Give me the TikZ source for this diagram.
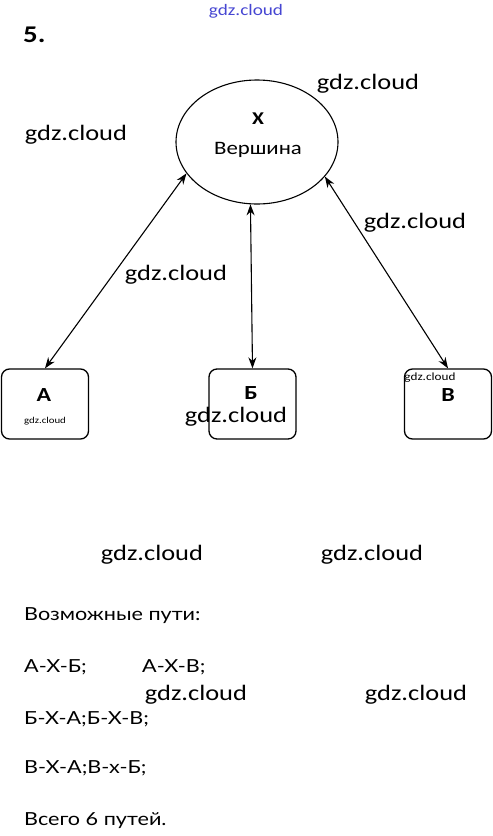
\documentclass[tikz,border=0pt]{standalone}
\usepackage{fontspec}
\setmainfont[FakeStretch=1.2]{Carlito}
\newfontfamily\putfont[FakeStretch=1.2]{Lato}
\usetikzlibrary{arrows.meta,shapes.geometric}
\definecolor{wmblue}{RGB}{70,70,210}

\begin{document}
\begin{tikzpicture}[x=1pt, y=-1pt,
    every node/.style={inner sep=0pt},
    wm/.style={font=\fontsize{22}{22}\selectfont},
    box/.style={draw, line width=1.3pt, rounded corners=8pt, minimum width=87pt, minimum height=70pt},
    lbl/.style={font=\fontsize{20}{20}\selectfont\bfseries},
    txt/.style={anchor=base west, font=\putfont\fontsize{18}{18}\selectfont},
    link/.style={line width=1.1pt, {Stealth[length=11pt,width=8pt]}-{Stealth[length=11pt,width=8pt]}}]
    \useasboundingbox (0,0) rectangle (493,836);

    \node[font=\fontsize{24}{24}\selectfont\bfseries, anchor=base west] (num) at (23,42) {5.};

    % Вершина X
    \node[draw, ellipse, line width=1.1pt, minimum width=162pt, minimum height=124pt] (X) at (257,142) {};
    \node[font=\fontsize{18}{18}\selectfont\bfseries] (xname) at (258,119) {X};
    \node[font=\fontsize{19}{19}\selectfont] (xtext) at (258,150) {Вершина};

    % Пункты
    \node[box] (A) at (45,404) {};
    \node[box] (B) at (252.5,404) {};
    \node[box] (V) at (448,404) {};
    \node[lbl] (lA) at (44,395) {А};
    \node[lbl] (lB) at (251,393) {Б};
    \node[lbl] (lV) at (448,395) {В};

    \draw[link] (X.204) -- (A.north);
    \draw[link] (X.264) -- (B.north);
    \draw[link] (X.333) -- (V.north);

    % Пути
    \node[txt] (t0) at (24,620) {Возможные пути:};
    \node[txt] (t1) at (24,672) {А-Х-Б;};
    \node[txt] (t2) at (142,672) {А-Х-В;};
    \node[txt] (t3) at (24,724) {Б-Х-А;Б-Х-В;};
    \node[txt] (t4) at (24,773) {В-Х-А;В-х-Б;};
    \node[txt] (t5) at (24,825) {Всего 6 путей.};

    % gdz.cloud
    \node[text=wmblue, font=\fontsize{16}{16}\selectfont] (w0) at (246,11) {gdz.cloud};
    \node[wm] (w1) at (368,84) {gdz.cloud};
    \node[wm] (w2) at (76,135) {gdz.cloud};
    \node[wm] (w3) at (415,223) {gdz.cloud};
    \node[wm] (w4) at (176,275) {gdz.cloud};
    \node[wm] (w5) at (236,417) {gdz.cloud};
    \node[wm] (w6) at (152,555) {gdz.cloud};
    \node[wm] (w7) at (372,555) {gdz.cloud};
    \node[wm] (w8) at (196,695) {gdz.cloud};
    \node[wm] (w9) at (416,695) {gdz.cloud};
    \node[font=\fontsize{9}{9}\selectfont] (w10) at (45,421) {gdz.cloud};
    \node[font=\fontsize{11}{11}\selectfont] (w11) at (430,378) {gdz.cloud};
\end{tikzpicture}
\end{document}
